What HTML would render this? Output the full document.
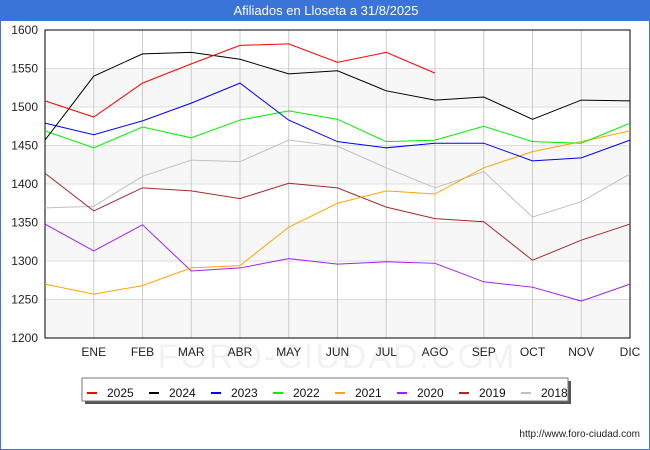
<!DOCTYPE html>
<html><head><meta charset="utf-8"><style>
body{margin:0;background:#fff;font-family:"Liberation Sans","DejaVu Sans",sans-serif}
#wrap{position:relative;width:650px;height:450px;box-sizing:border-box;border:1px solid #3a74d8;border-top:none}
#title{position:absolute;left:0;top:0;width:650px;height:21px;background:#3a74d8;color:#fff;font-size:13px;line-height:22px;text-align:center}
</style></head><body>
<div id="wrap">
<div id="title">Afiliados en Lloseta a 31/8/2025</div>
<svg id="chart" width="650" height="450" style="position:absolute;left:-1px;top:0"></svg>
</div>
<script>
const months=["","ENE","FEB","MAR","ABR","MAY","JUN","JUL","AGO","SEP","OCT","NOV","DIC"];
const yTicks=[1200,1250,1300,1350,1400,1450,1500,1550,1600];
const years=["2025","2024","2023","2022","2021","2020","2019","2018"];
const colors=["#ff0000","#000000","#0000ff","#00ee00","#ffa500","#a020f0","#a52a2a","#c0c0c0"];
const s2025=[1508,1487,1531,1556,1580,1582,1558,1571,1544];
const s2024=[1457,1540,1569,1571,1562,1543,1547,1521,1509,1513,1484,1509,1508];
const s2023=[1479,1464,1482,1505,1531,1483,1455,1447,1453,1453,1430,1434,1457];
const s2022=[1469,1447,1474,1460,1483,1495,1484,1455,1457,1475,1455,1453,1479];
const s2021=[1270,1257,1268,1291,1294,1344,1375,1391,1387,1421,1442,1455,1469];
const s2020=[1348,1313,1347,1287,1291,1303,1296,1299,1297,1273,1266,1248,1270];
const s2019=[1414,1365,1395,1391,1381,1401,1395,1370,1355,1351,1301,1327,1348];
const s2018=[1369,1371,1410,1431,1429,1457,1449,1421,1395,1416,1357,1377,1413];
const series=[s2025,s2024,s2023,s2022,s2021,s2020,s2019,s2018];
const NS="http://www.w3.org/2000/svg";
const svg=document.getElementById('chart');
const L=45,R=630,T=30,B=338,ymin=1200,ymax=1600;
const x=i=>L+i*(R-L)/12;
const y=v=>B-(v-ymin)/(ymax-ymin)*(B-T);
function mk(tag,a){const e=document.createElementNS(NS,tag);for(const k in a)e.setAttribute(k,a[k]);svg.appendChild(e);return e;}
for(let i=0;i<yTicks.length-1;i++){
  if(i%2===0){const b=mk('rect',{x:L,y:y(yTicks[i+1]),width:R-L,height:y(yTicks[i])-y(yTicks[i+1]),fill:'#f7f7f7'});
  
  }
}
const wm=mk('text',{x:337,y:368,'text-anchor':'middle','font-size':'34',fill:'#f2f2f2','letter-spacing':'2'});
wm.textContent='FORO-CIUDAD.COM';


yTicks.forEach(v=>{
  const g=mk('line',{x1:L,x2:R,y1:y(v),y2:y(v),stroke:'#dddddd'});
  
  
  const t=mk('text',{x:L-7,y:y(v)+4,'text-anchor':'end','font-size':'12',fill:'#222'});
  t.textContent=v;
  
  
});
months.forEach((m,i)=>{
  if(i>0){const g=mk('line',{x1:x(i),x2:x(i),y1:T,y2:B,stroke:'#cccccc'});
  
  }
  const t=mk('text',{x:x(i),y:356,'text-anchor':'middle','font-size':'12',fill:'#222'});
  t.textContent=m;
  
  
});
const frame=mk('rect',{x:L,y:T,width:R-L,height:B-T,fill:'none',stroke:'#000'});


for(let k=series.length-1;k>=0;k--){
  const p=mk('polyline',{points:series[k].map((v,i)=>x(i)+','+y(v)).join(' '),fill:'none',stroke:colors[k],'stroke-width':'1'});
  
  
}
const sh=mk('rect',{x:85,y:381,width:486,height:23,fill:'#555'});


const lb=mk('rect',{x:82,y:378,width:486,height:23,fill:'#fff',stroke:'#777'});


years.forEach((yr,k)=>{
  const lx=87+k*62;
  const ln=mk('line',{x1:lx,x2:lx+10,y1:393,y2:393,stroke:colors[k],'stroke-width':'2'});
  
  
  const t=mk('text',{x:lx+20,y:397,'font-size':'12',fill:'#111'});
  t.textContent=yr;
  
  
});
const u=mk('text',{x:640,y:437,'text-anchor':'end','font-size':'10',fill:'#222'});
u.textContent='http://www.foro-ciudad.com';


</script>
</body></html>
